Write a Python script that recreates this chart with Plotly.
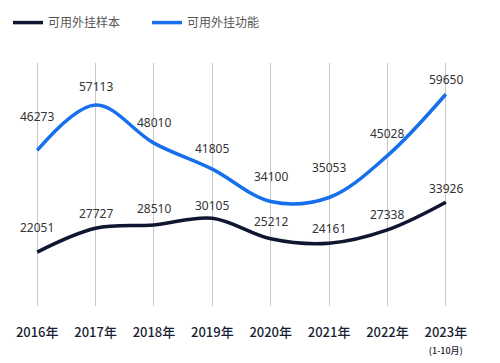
import plotly.graph_objects as go

years = ["2016年", "2017年", "2018年", "2019年", "2020年", "2021年", "2022年", "2023年"]
tick_text = years[:-1] + ["2023年<br><span style='font-size:9px'>(1-10月)</span>"]
sample = [22051, 27727, 28510, 30105, 25212, 24161, 27338, 33926]
feature = [46273, 57113, 48010, 41805, 34100, 35053, 45028, 59650]
series_names = ["可用外挂样本", "可用外挂功能"]

# label pixel offsets above points (style)
sample_shift = [25, 15, 16, 13, 17, 15, 15, 14]
feature_shift = [34, 18, 21, 21, 25, 30, 22, 15]

BLACK = "#0f1730"
BLUE = "#1670ec"
xs = list(range(len(years)))

fig = go.Figure()
fig.add_trace(go.Scatter(x=xs, y=sample, mode="lines", name=series_names[0],
                         line=dict(color=BLACK, width=3.5, shape="spline", smoothing=1.0)))
fig.add_trace(go.Scatter(x=xs, y=feature, mode="lines", name=series_names[1],
                         line=dict(color=BLUE, width=3.5, shape="spline", smoothing=1.0)))

for vals, shifts in ((sample, sample_shift), (feature, feature_shift)):
    for i, v in enumerate(vals):
        fig.add_annotation(x=xs[i], y=v, text=str(v), showarrow=False,
                           yshift=shifts[i], yanchor="middle",
                           font=dict(size=12, color="#333333", family="Noto Sans, Noto Sans CJK SC"))

fig.update_layout(
    width=500, height=363,
    margin=dict(l=0, r=33, t=50, b=65),
    plot_bgcolor="white", paper_bgcolor="white",
    showlegend=True,
    legend=dict(orientation="h", x=0, y=1.226, xref="paper", yref="paper",
                xanchor="left", yanchor="top",
                font=dict(size=12, color="#555555", family="Noto Sans CJK SC"),
                entrywidth=94, entrywidthmode="pixels",
                itemwidth=30, bgcolor="rgba(0,0,0,0)"),
    font=dict(family="Noto Sans CJK SC"),
)
fig.update_xaxes(range=[-0.5, 7.5], tickvals=xs, ticktext=tick_text,
                 showgrid=True, gridcolor="#c8c8c8", gridwidth=1, zeroline=False,
                 showline=False, ticks="outside", ticklen=14, tickcolor="rgba(0,0,0,0)",
                 tickfont=dict(size=13, color="#1a1f36", family="Noto Sans CJK SC", weight=500))
fig.update_yaxes(range=[9200, 67100], showgrid=False, zeroline=False,
                 showticklabels=False, showline=False)

fig.write_html("out.html")
